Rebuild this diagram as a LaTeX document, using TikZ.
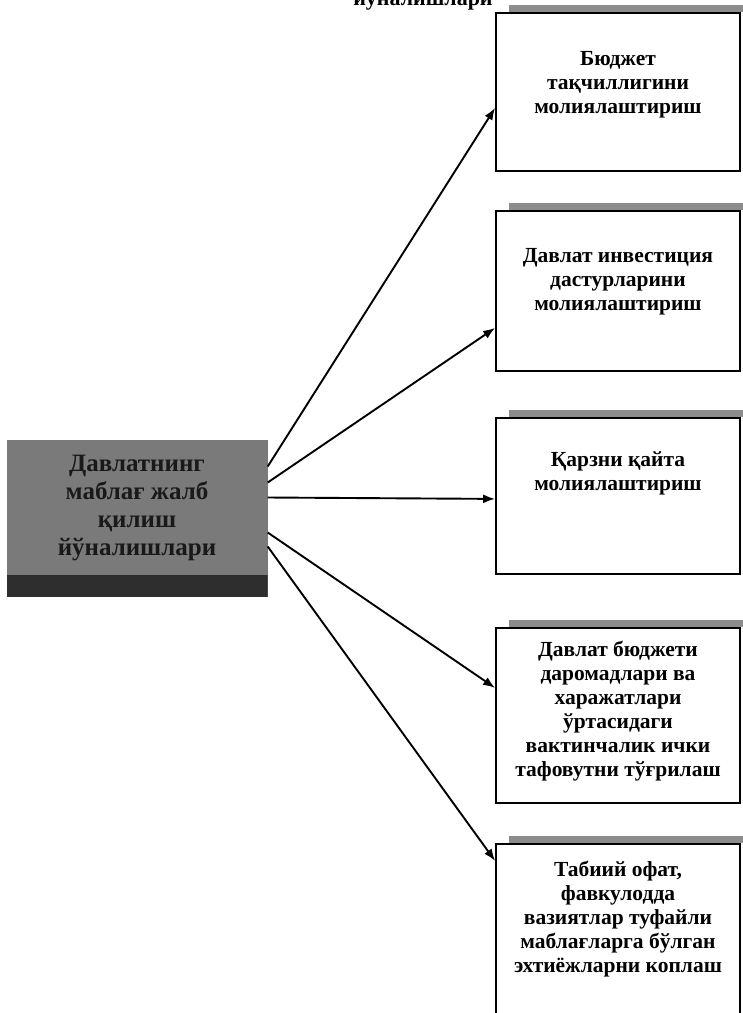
\documentclass[tikz,border=0pt]{standalone}
\usepackage{fontspec}
\setmainfont{Liberation Serif}
\usetikzlibrary{arrows.meta, positioning}
\tikzstyle{box} = [draw, line width=1.8pt, rectangle, minimum width=244pt, inner sep=0pt, anchor=north]
\tikzstyle{boxtext} = [align=center, font=\bfseries\fontsize{21.5}{24}\selectfont, inner sep=0pt]
\tikzstyle{source} = [rectangle, fill=black!52, minimum width=261pt, minimum height=157pt, inner sep=0pt,
    path picture={\fill [black!82] ([yshift=22pt]path picture bounding box.south west) rectangle (path picture bounding box.south east);}]
\tikzstyle{sourcetext} = [align=center, font=\bfseries\fontsize{25}{28}\selectfont, text=black!90, inner sep=0pt]
\tikzstyle{band} = [fill=black!45]
\tikzstyle{title} = [font=\bfseries\fontsize{22}{26}\selectfont, anchor=base, inner sep=0pt]
\tikzstyle{path} = [-{Latex[length=12pt, width=9pt]}, line width=1.9pt]

\begin{document}
\begin{tikzpicture}[x=1pt, y=-1pt]
    \useasboundingbox (0,0) rectangle (743,1013);

    % Title, cut at the top edge.
    \node [title] at (423,5) {йўналишлари};

    % Source.
    \node (src) [source] at (137,518) {};
    \node [sourcetext] at ([yshift=10pt]src.center) {Давлатнинг\\маблағ жалб\\қилиш\\йўналишлари};

    % Boxes.
    \foreach\i/\t/\h in {1/12/158, 2/210/160, 3/417/156, 4/627/175, 5/843/190} {
        \node (box\i) [box, minimum height=\h pt] at (618,\t) {};
        \fill [band] ([xshift=14pt]box\i.north west) rectangle ([xshift=3pt, yshift=7pt]box\i.north east);
    }

    \node [boxtext, below=39pt of box1.north] {Бюджет\\тақчиллигини\\молиялаштириш};
    \node [boxtext, below=38pt of box2.north] {Давлат инвестиция\\дастурларини\\молиялаштириш};
    \node [boxtext, below=34pt of box3.north] {Қарзни қайта\\молиялаштириш};
    \node [boxtext, below=14pt of box4.north] {Давлат бюджети\\даромадлари ва\\харажатлари\\ўртасидаги\\вактинчалик ички\\тафовутни тўғрилаш};
    \node [boxtext, below=18pt of box5.north] {Табиий офат,\\фавкулодда\\вазиятлар туфайли\\маблағларга бўлган\\эхтиёжларни коплаш};

    % Arrows.
    \foreach\i/\s/\e in {1/51.5/-16, 2/35.5/-37, 3/20.5/-3, 4/-14.5/27.5, 5/-28.5/78} {
        \draw [path] ([yshift=\s pt]src.east) -- ([yshift=\e pt]box\i.west);
    }
\end{tikzpicture}
\end{document}
